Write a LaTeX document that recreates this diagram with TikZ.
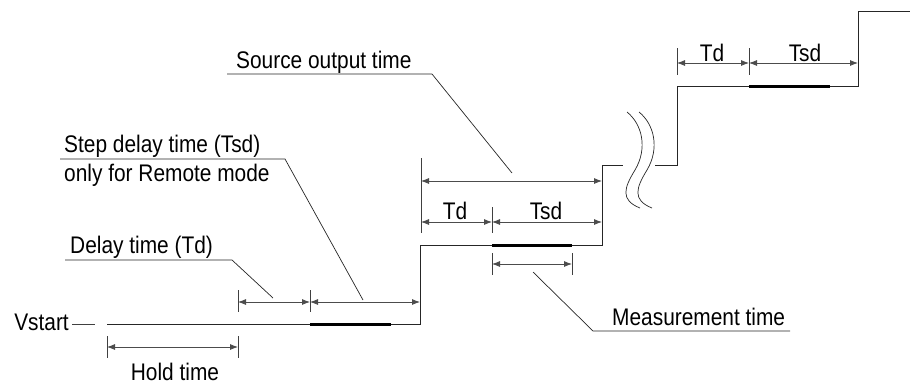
\documentclass[tikz,border=0pt]{standalone}
\usepackage{fontspec}
\setmainfont[FakeStretch=0.87]{Liberation Sans}
\usetikzlibrary{arrows.meta}
\begin{document}
\begin{tikzpicture}[x=1pt,y=-1pt,
  wave/.style={line width=0.9pt, draw=black!85},
  meas/.style={line width=3pt, draw=black},
  extl/.style={line width=0.8pt, draw=black!75},
  dim/.style={line width=0.8pt, draw=black!70, {Latex[length=8pt,width=6pt]}-{Latex[length=8pt,width=6pt]}},
  lead/.style={line width=0.7pt, draw=black!85},
  lbl/.style={font=\fontsize{24}{28}\selectfont, inner sep=0pt, text=black}]
\useasboundingbox (0,0) rectangle (910,384);
% waveform points
\coordinate (w0) at (107,324); \coordinate (w1) at (420,324);
\coordinate (w2) at (420,245); \coordinate (w3) at (602,245);
\coordinate (w4) at (602,165); \coordinate (w5) at (623,165);
\coordinate (w6) at (655,165); \coordinate (w7) at (677,165);
\coordinate (w8) at (677,86);  \coordinate (w9) at (858,86);
\coordinate (w10) at (858,11); \coordinate (w11) at (910,11);
\draw[wave] (w0) -- (w1) -- (w2) -- (w3) -- (w4) -- (w5);
\draw[wave] (w6) -- (w7) -- (w8) -- (w9) -- (w10) -- (w11);
% measurement (thick) segments
\coordinate (m1a) at (310,324); \coordinate (m1b) at (391,324);
\coordinate (m2a) at (492,245); \coordinate (m2b) at (572,245);
\coordinate (m3a) at (749,86);  \coordinate (m3b) at (830,86);
\draw[meas] (m1a) -- (m1b);
\draw[meas] (m2a) -- (m2b);
\draw[meas] (m3a) -- (m3b);
% break marks
\draw[lead] (627,112) .. controls (642,124) and (648,148) .. (635,170) .. controls (624,188) and (620,200) .. (640,208);
\draw[lead] (639,112) .. controls (654,124) and (660,148) .. (647,170) .. controls (636,188) and (632,200) .. (652,208);
% Vstart
\node[lbl, anchor=east] (vstart) at (69,322) {Vstart};
\coordinate (vd0) at (72,324); \coordinate (vd1) at (95,324);
\draw[extl] (vd0) -- (vd1);
% Hold time
\coordinate (h0) at (107,347); \coordinate (h1) at (238,347);
\draw[extl] (107,336) -- (107,358);
\draw[extl] (238,336) -- (238,358);
\draw[dim] (h0) -- (h1);
\node[lbl, anchor=base] (hold) at (175,380) {Hold time};
% Delay / step delay
\coordinate (d0) at (238,302); \coordinate (d1) at (310,302); \coordinate (d2) at (420,302);
\draw[extl] (238,290) -- (238,312);
\draw[extl] (310,290) -- (310,312);
\draw[dim] (d0) -- (d1);
\draw[dim] (d1) -- (d2);
\node[lbl, anchor=base west] (delay) at (70,253) {Delay time (Td)};
\coordinate (dl0) at (65,260); \coordinate (dl1) at (232,260); \coordinate (dl2) at (273,298);
\draw[lead] (dl0) -- (dl1) -- (dl2);
\node[lbl, anchor=base west] (step1) at (64,152) {Step delay time (Tsd)};
\node[lbl, anchor=base west] (step2) at (64,181) {only for Remote mode};
\coordinate (sl0) at (60,159); \coordinate (sl1) at (285,159); \coordinate (sl2) at (363,300);
\draw[lead] (sl0) -- (sl1) -- (sl2);
% Source output time
\coordinate (s0) at (421,181); \coordinate (s1) at (602,181);
\coordinate (t0) at (421,222); \coordinate (t1) at (492,222); \coordinate (t2) at (602,222);
\draw[extl] (421,158) -- (421,233);
\draw[extl] (492,207) -- (492,233);
\draw[dim] (s0) -- (s1);
\draw[dim] (t0) -- (t1);
\draw[dim] (t1) -- (t2);
\node[lbl, anchor=base] (td1) at (455,219) {Td};
\node[lbl, anchor=base] (tsd1) at (546,219) {Tsd};
\node[lbl, anchor=base west] (source) at (236,68) {Source output time};
\coordinate (ol0) at (227,74); \coordinate (ol1) at (432,74); \coordinate (ol2) at (512,173);
\draw[lead] (ol0) -- (ol1) -- (ol2);
% Measurement time
\coordinate (me0) at (492,264); \coordinate (me1) at (572,264);
\draw[extl] (492,253) -- (492,275);
\draw[extl] (572,253) -- (572,275);
\draw[dim] (me0) -- (me1);
\node[lbl, anchor=base west] (meas) at (612,325) {Measurement time};
\coordinate (ml0) at (533,272); \coordinate (ml1) at (593,331); \coordinate (ml2) at (790,331);
\draw[lead] (ml0) -- (ml1) -- (ml2);
% top Td / Tsd
\coordinate (u0) at (677,63); \coordinate (u1) at (749,63); \coordinate (u2) at (858,63);
\draw[extl] (677,48) -- (677,75);
\draw[extl] (749,48) -- (749,75);
\draw[dim] (u0) -- (u1);
\draw[dim] (u1) -- (u2);
\node[lbl, anchor=base] (td2) at (712,61) {Td};
\node[lbl, anchor=base] (tsd2) at (805,61) {Tsd};
\end{tikzpicture}
\end{document}
